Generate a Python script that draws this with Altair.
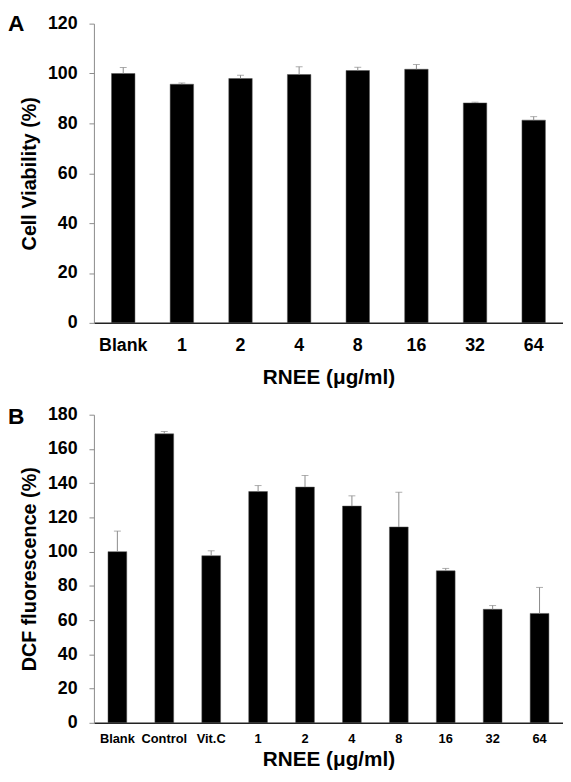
import altair as alt
import pandas as pd

a_cats = ["Blank", "1", "2", "4", "8", "16", "32", "64"]
a_vals = [100, 95.7, 98, 99.6, 101.2, 101.7, 88.2, 81.3]
a_errs = [2.4, 0.5, 1.3, 3.1, 1.3, 1.9, 0.3, 1.4]

b_cats = ["Blank", "Control", "Vit.C", "1", "2", "4", "8", "16", "32", "64"]
b_vals = [100, 168.8, 97.6, 135.1, 137.7, 126.6, 114.4, 88.8, 66.3, 63.9]
b_errs = [12, 1.4, 2.9, 3.5, 6.8, 6, 20.3, 1.4, 2.2, 15.2]

FONT = "Liberation Sans"
GREY = "#8a8a8a"


def panel(cats, vals, errs, ytitle, ymax, height, xlabel_size, lab_pad, title_pad, letter, letter_y):
    df = pd.DataFrame({"cat": cats, "val": vals, "err": errs})
    df["top"] = df["val"] + df["err"]
    xscale = alt.Scale(paddingInner=0.6, paddingOuter=0.3)
    yscale = alt.Scale(domain=[0, ymax], nice=False)
    xaxis = alt.Axis(
        title="RNEE (μg/ml)",
        labelAngle=0,
        ticks=False,
        labelFont=FONT,
        labelFontWeight="bold",
        labelFontSize=xlabel_size,
        labelColor="black",
        labelPadding=lab_pad,
        labelOverlap=False,
        titleFont=FONT,
        titleFontWeight="bold",
        titleFontSize=21,
        titleColor="black",
        titlePadding=title_pad,
        domainColor="#222222",
        domainWidth=1.5,
    )
    yaxis = alt.Axis(
        title=ytitle,
        values=list(range(0, ymax + 1, 20)),
        grid=False,
        tickSize=5,
        tickColor=GREY,
        domainColor=GREY,
        labelFont=FONT,
        labelFontWeight="bold",
        labelFontSize=18,
        labelColor="black",
        labelPadding=12,
        labelOverlap=False,
        titleFont=FONT,
        titleFontWeight="bold",
        titleFontSize=20,
        titleColor="black",
        titlePadding=8,
    )
    x = alt.X("cat:N", sort=cats, scale=xscale, axis=xaxis)
    base = alt.Chart(df)
    bars = base.mark_bar(color="black", stroke="#555555", strokeWidth=0.5).encode(
        x=x, y=alt.Y("val:Q", scale=yscale, axis=yaxis)
    )
    rule = base.mark_rule(color=GREY, strokeWidth=1).encode(
        x=x, y=alt.Y("val:Q", scale=yscale, axis=yaxis), y2="top:Q"
    )
    cap = base.mark_tick(color=GREY, thickness=1, size=7, orient="horizontal").encode(
        x=x, y=alt.Y("top:Q", scale=yscale, axis=yaxis)
    )
    lab = alt.Chart(pd.DataFrame({"t": [letter]})).mark_text(
        font=FONT, fontWeight="bold", fontSize=23, align="left", baseline="top", color="black"
    ).encode(text="t:N", x=alt.value(-87), y=alt.value(letter_y))
    return alt.layer(bars, rule, cap, lab).properties(width=475, height=height)


pa = panel(a_cats, a_vals, a_errs, "Cell Viability (%)", 120, 303, 18, 14, 12, "A", -11)
pb = panel(b_cats, b_vals, b_errs, "DCF fluorescence (%)", 180, 312, 13, 10, 3, "B", -9)

chart = alt.vconcat(pa, pb, spacing=19).properties(
    padding={"left": 0, "top": 0, "right": 0, "bottom": 0}
).configure_view(stroke=None)

chart.save("out.html", embed_options={"renderer": "svg", "actions": False})
